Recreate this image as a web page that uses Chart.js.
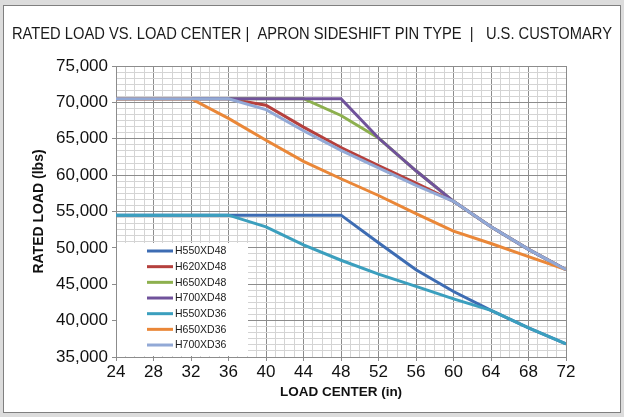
<!DOCTYPE html>
<html>
<head>
<meta charset="utf-8">
<script src="https://cdn.jsdelivr.net/npm/chart.js@4.4.1/dist/chart.umd.min.js"></script>
<style>
    html, body { margin: 0; padding: 0; background: #dcdcdc; }
    .frame { position: absolute; left: 3px; top: 5px; width: 616px; height: 406px; border: 1px solid #7f7f7f; background: #fff; }
    #chart { position: absolute; left: 0; top: 0; }
</style>
</head>
<body>
<div class="frame"></div>
<canvas id="chart" width="624" height="417"></canvas>
<script>
// load center (in)
const loadCenters = [24, 28, 32, 36, 40, 44, 48, 52, 56, 60, 64, 68, 72]

// rated load (lbs)
const h550xd48 = [54500, 54500, 54500, 54500, 54500, 54500, 54500, 50700, 47000, 44000, 41400, 39000, 36800]
const h620xd48 = [70500, 70500, 70500, 70500, 69600, 66600, 63800, 61300, 58900, 56400, 52900, 49800, 47000]
const h650xd48 = [70500, 70500, 70500, 70500, 70500, 70500, 68200, 65100, 60600, 56400, 52900, 49800, 47000]
const h700xd48 = [70500, 70500, 70500, 70500, 70500, 70500, 70500, 65100, 60600, 56400, 52900, 49800, 47000]
const h550xd36 = [54500, 54500, 54500, 54500, 52900, 50400, 48300, 46400, 44700, 43000, 41400, 39000, 36800]
const h650xd36 = [70500, 70500, 70500, 67800, 64800, 61900, 59500, 57200, 54700, 52300, 50600, 48800, 47000]
const h700xd36 = [70500, 70500, 70500, 70500, 69000, 66100, 63400, 61000, 58600, 56400, 52900, 49800, 47000]

const seriesNames = ['H550XD48', 'H620XD48', 'H650XD48', 'H700XD48', 'H550XD36', 'H650XD36', 'H700XD36']
const seriesValues = [h550xd48, h620xd48, h650xd48, h700xd48, h550xd36, h650xd36, h700xd36]
const seriesColors = ['#3d6cb3', '#b5403d', '#8db04e', '#70529b', '#3b9fbe', '#ea8738', '#92a9d6']

// tick labels
const xTickLabels = [24, 28, 32, 36, 40, 44, 48, 52, 56, 60, 64, 68, 72]
const yTickLabels = [35000, 40000, 45000, 50000, 55000, 60000, 65000, 70000, 75000]
const xMinorPerMajor = 4
const yMinorPerMajor = 6

const FONT = "'Liberation Sans', Arial, sans-serif"
const MAJOR_GRID = '#8c8c8c'
const MINOR_GRID = '#d4d4d4'

function buildTicks(labels, perMajor) {
    const ticks = []
    for (let i = 0; i < labels.length; i++) {
        ticks.push({ value: labels[i], lab: true })
        if (i === labels.length - 1) break
        const step = (labels[i + 1] - labels[i]) / perMajor
        for (let k = 1; k < perMajor; k++) ticks.push({ value: labels[i] + k * step, lab: false })
    }
    return ticks
}

const gridColor = ctx => (ctx.tick && ctx.tick.lab ? MAJOR_GRID : MINOR_GRID)
const tickColor = ctx => (ctx.tick && ctx.tick.lab ? MAJOR_GRID : 'rgba(0,0,0,0)')

// legend sits inside the plot, bottom left
const insideLegend = {
    id: 'insideLegend',
    afterDatasetsDraw(chart) {
        const { ctx, chartArea } = chart
        const left = chartArea.left + 1
        const top = chartArea.bottom - 114
        ctx.save()
        ctx.fillStyle = '#fff'
        ctx.fillRect(left, top, 131, 113)
        ctx.font = `10.5px ${FONT}`
        ctx.textBaseline = 'middle'
        ctx.fillStyle = '#1a1a1a'
        chart.data.datasets.forEach((ds, i) => {
            const y = top + 8 + i * 15.67
            ctx.strokeStyle = ds.borderColor
            ctx.lineWidth = 3
            ctx.beginPath()
            ctx.moveTo(left + 30, y)
            ctx.lineTo(left + 56, y)
            ctx.stroke()
            ctx.fillText(ds.label, left + 58, y + 0.5)
        })
        ctx.restore()
    }
}

new Chart(document.getElementById('chart'), {
    type: 'line',
    data: {
        datasets: seriesNames.map((name, i) => ({
            label: name,
            data: loadCenters.map((x, j) => ({ x: x, y: seriesValues[i][j] })),
            borderColor: seriesColors[i],
            backgroundColor: seriesColors[i],
            borderWidth: 3,
            pointRadius: 0,
            tension: 0,
            fill: false,
            order: seriesNames.length - i
        }))
    },
    options: {
        responsive: false,
        animation: false,
        events: [],
        layout: { padding: { left: 12, right: 12, top: 0, bottom: 0 } },
        plugins: {
            legend: { display: false },
            tooltip: { enabled: false },
            title: {
                display: true,
                text: 'RATED LOAD VS. LOAD CENTER |  APRON SIDESHIFT PIN TYPE  |   U.S. CUSTOMARY',
                color: '#1a1a1a',
                font: { family: FONT, size: 17, weight: 'normal' },
                padding: { top: 24, bottom: 21.6 }
            }
        },
        scales: {
            x: {
                type: 'linear',
                min: 24,
                max: 72,
                afterBuildTicks: s => { s.ticks = buildTicks(xTickLabels, xMinorPerMajor) },
                afterFit: s => { s.height = 60 },
                grid: { color: gridColor, tickColor: tickColor, tickLength: 4, lineWidth: 1 },
                border: { color: MAJOR_GRID },
                ticks: {
                    autoSkip: false,
                    maxRotation: 0,
                    padding: 1,
                    color: '#111',
                    font: { family: FONT, size: 17 },
                    callback: (v, i, ticks) => (ticks[i].lab ? String(v) : '')
                },
                title: {
                    display: true,
                    text: 'LOAD CENTER (in)',
                    color: '#111',
                    font: { family: FONT, size: 13.5, weight: 'bold' },
                    padding: { top: 0, bottom: 17 }
                }
            },
            y: {
                type: 'linear',
                min: 35000,
                max: 75000,
                afterBuildTicks: s => { s.ticks = buildTicks(yTickLabels, yMinorPerMajor) },
                afterFit: s => { s.width = 104 },
                grid: { color: gridColor, tickColor: tickColor, tickLength: 4, lineWidth: 1 },
                border: { color: MAJOR_GRID },
                ticks: {
                    autoSkip: false,
                    padding: 4,
                    color: '#111',
                    font: { family: FONT, size: 17 },
                    callback: (v, i, ticks) => (ticks[i].lab ? Number(v).toLocaleString('en-US') : '')
                },
                title: {
                    display: true,
                    text: 'RATED LOAD (lbs)',
                    color: '#111',
                    font: { family: FONT, size: 14, weight: 'bold' },
                    padding: { top: 19, bottom: 0 }
                }
            },
            yRight: {
                type: 'linear',
                position: 'right',
                afterFit: s => { s.width = 46 },
                grid: { display: false },
                border: { display: false },
                ticks: { display: false }
            }
        }
    },
    plugins: [insideLegend]
})
</script>
</body>
</html>
